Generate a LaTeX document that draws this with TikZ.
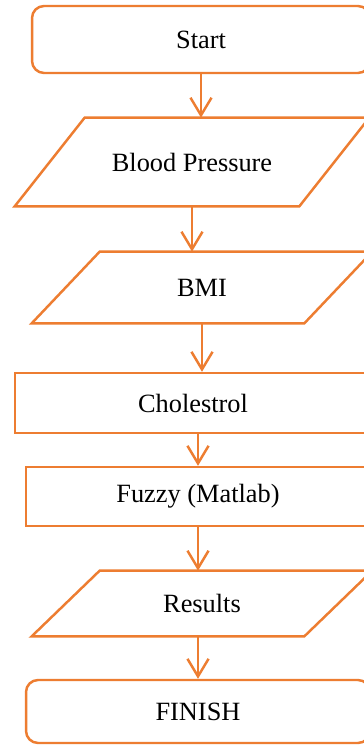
\documentclass[tikz,border=0pt]{standalone}
\usepackage{fontspec}
\setmainfont{Liberation Serif}
\usetikzlibrary{arrows.meta}
\definecolor{boxorange}{RGB}{237,125,49}

\begin{document}
\begin{tikzpicture}[x=0.02cm, y=-0.02cm,
  box/.style={draw=boxorange, line width=1.4pt, inner sep=0pt, font=\fontsize{15}{18}\selectfont},
  term/.style={box, rounded corners=0.24cm},
  io/.style={inner sep=0pt, font=\fontsize{15}{18}\selectfont},
  edge/.style={boxorange, line width=1.4pt}]
\def\l{10pt}
\def\w{12pt}
\useasboundingbox (0,0) rectangle (364,746);
\clip (0,0) rectangle (364,746);
\fill[white] (0,0) rectangle (364,746);

\node [term, minimum width=6.76cm, minimum height=1.34cm, name=start]   at (201,39.5)  {Start};
\node [io,   minimum width=7.08cm, minimum height=1.76cm, name=bp]      at (192,162)   {Blood Pressure};
\node [io,   minimum width=6.80cm, minimum height=1.42cm, name=bmi]     at (202,287.5) {BMI};
\node [box,  minimum width=7.12cm, minimum height=1.20cm, name=chol]    at (193,403)   {Cholestrol};
\node [box,  minimum width=6.88cm, minimum height=1.18cm, name=fuzzy]   at (198,496.5) {Fuzzy (Matlab)};
\node [io,   minimum width=6.80cm, minimum height=1.30cm, name=res]     at (202,603.5) {Results};
\node [term, minimum width=6.88cm, minimum height=1.26cm, name=finish]  at (198,711.5) {FINISH};

%parallelograms
\draw [edge, line join=miter] ([xshift=1.40cm]bp.north west) -- (bp.north east) -- ([xshift=-1.40cm]bp.south east) -- (bp.south west) -- cycle;
\draw [edge, line join=miter] ([xshift=1.36cm]bmi.north west) -- (bmi.north east) -- ([xshift=-1.36cm]bmi.south east) -- (bmi.south west) -- cycle;
\draw [edge, line join=miter] ([xshift=1.36cm]res.north west) -- (res.north east) -- ([xshift=-1.36cm]res.south east) -- (res.south west) -- cycle;

\draw [edge, -{Straight Barb[length=\l, width=\w]}] (start.south) -- (start.south |- bp.north);
\draw [edge, -{Straight Barb[length=\l, width=\w]}] (bp.south) -- (bp.south |- bmi.north);
\draw [edge, -{Straight Barb[length=\l, width=\w]}] (bmi.south) -- (bmi.south |- chol.north);
\draw [edge, -{Straight Barb[length=\l, width=\w]}] (fuzzy.north |- chol.south) -- (fuzzy.north);
\draw [edge, -{Straight Barb[length=\l, width=\w]}] (fuzzy.south) -- (fuzzy.south |- res.north);
\draw [edge, -{Straight Barb[length=\l, width=\w]}] (finish.north |- res.south) -- (finish.north);
\end{tikzpicture}
\end{document}
